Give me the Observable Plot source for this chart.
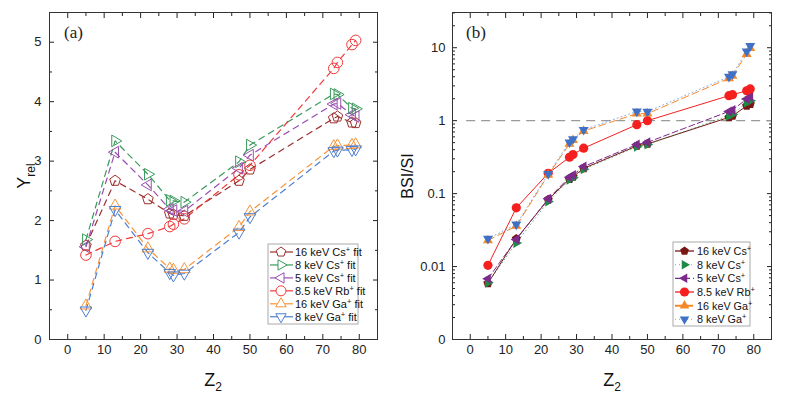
<!DOCTYPE html>
<html><head><meta charset="utf-8">
<script src="https://cdn.jsdelivr.net/npm/d3@7"></script>
<script src="https://cdn.jsdelivr.net/npm/@observablehq/plot@0.6"></script>
<style>
body{margin:0;background:#fff;}
#chart{position:relative;width:797px;height:394px;overflow:hidden;background:#fff;}
#chart svg{position:absolute;top:0;}
</style></head><body><div id="chart"></div>
<script>
// ---------- data ----------
const Z2 = [5, 13, 22, 28, 29, 32, 47, 50, 73, 74, 78, 79];
const seriesLabels = ["16 keV Cs", "8 keV Cs", "5 keV Cs", "8.5 keV Rb", "16 keV Ga", "8 keV Ga"];

// panel (a): relative yield
const yrelCs16 = [1.58, 2.67, 2.36, 2.12, 2.10, 2.08, 2.67, 2.86, 3.72, 3.75, 3.65, 3.64];
const yrelCs8  = [1.68, 3.34, 2.78, 2.34, 2.33, 2.31, 2.99, 3.27, 4.13, 4.12, 3.89, 3.88];
const yrelCs5  = [1.56, 3.15, 2.60, 2.19, 2.17, 2.16, 2.88, 3.10, 3.96, 3.97, 3.78, 3.75];
const yrelRb85 = [1.42, 1.65, 1.78, 1.90, 1.94, 2.03, 2.77, 2.93, 4.56, 4.66, 4.96, 5.03];
const yrelGa16 = [0.57, 2.25, 1.53, 1.19, 1.17, 1.18, 1.89, 2.15, 3.25, 3.26, 3.27, 3.28];
const yrelGa8  = [0.49, 2.18, 1.46, 1.12, 1.08, 1.11, 1.80, 2.06, 3.17, 3.18, 3.19, 3.20];

// panel (b): BSI/SI
const bsiCs16 = [0.0059, 0.024, 0.083, 0.158, 0.170, 0.222, 0.45, 0.48, 1.11, 1.16, 1.60, 1.69];
const bsiCs8  = [0.0060, 0.021, 0.078, 0.155, 0.165, 0.215, 0.44, 0.47, 1.17, 1.22, 1.78, 1.88];
const bsiCs5  = [0.0068, 0.0235, 0.085, 0.168, 0.180, 0.235, 0.47, 0.505, 1.34, 1.40, 1.98, 2.13];
const bsiRb85 = [0.0104, 0.0638, 0.19, 0.315, 0.343, 0.42, 0.88, 1.00, 2.20, 2.27, 2.57, 2.72];
const bsiGa16 = [0.0228, 0.036, 0.18, 0.48, 0.54, 0.72, 1.25, 1.25, 3.8, 4.1, 8.2, 9.9];
const bsiGa8  = [0.0241, 0.0378, 0.186, 0.505, 0.56, 0.75, 1.34, 1.33, 4.0, 4.35, 8.9, 10.6];
const refLevel = [1];

// ticks
const xTicks = [0, 10, 20, 30, 40, 50, 60, 70, 80];
const xMinor = [-5, 5, 15, 25, 35, 45, 55, 65, 75, 85];
const yrelTicks = [0, 1, 2, 3, 4, 5];
const yrelMinor = [0.5, 1.5, 2.5, 3.5, 4.5, 5.5];
const bsiTicks = [0.001, 0.01, 0.1, 1, 10];
const bsiTickLabels = ["0", "0.01", "0.1", "1", "10"];
const bsiMinor = [0.002,0.003,0.004,0.005,0.006,0.007,0.008,0.009,
  0.02,0.03,0.04,0.05,0.06,0.07,0.08,0.09,
  0.2,0.3,0.4,0.5,0.6,0.7,0.8,0.9,
  2,3,4,5,6,7,8,9,20,30];

// ---------- styles ----------
function regPoly(n, scale) {
  return {draw(ctx, size) {
    const R = Math.sqrt(size / Math.PI) * scale;
    for (let i = 0; i < n; i++) {
      const a = -Math.PI / 2 + i * 2 * Math.PI / n;
      const px = R * Math.cos(a), py = R * Math.sin(a);
      if (i === 0) ctx.moveTo(px, py); else ctx.lineTo(px, py);
    }
    ctx.closePath();
  }};
}
const pentagon = regPoly(5, 1.0);
const triangle = regPoly(3, 1.2);

const yrelSeries = [yrelCs16, yrelCs8, yrelCs5, yrelRb85, yrelGa16, yrelGa8];
const bsiSeries = [bsiCs16, bsiCs8, bsiCs5, bsiRb85, bsiGa16, bsiGa8];
const openColors = ["#9c2f2f", "#3a9a5c", "#9a4fb0", "#f03a3a", "#f7943a", "#4f7fd0"];
const fillColors = ["#7a1515", "#1f8a45", "#7c2a8c", "#f51f1f", "#f5892a", "#3f72c6"];
const symbols = [pentagon, triangle, triangle, "circle", triangle, triangle];
const rotations = [0, 90, -90, 0, 0, 180];
const bsiDash = [null, "1,3", "6,3", null, "7,4", "1,3"];

function rows(vals) { return Z2.map((z, i) => ({z, v: vals[i]})); }

const font = "'Liberation Sans', Arial, sans-serif";

function frameAxes(yT, yM, yFmt, pad) {
  const noTxt = () => "";
  return [
    Plot.axisX(xTicks, {anchor: "bottom", tickSize: -5, tickFormat: noTxt, label: null}),
    Plot.axisX(xMinor, {anchor: "bottom", tickSize: -3, tickFormat: noTxt, label: null}),
    Plot.axisX(xTicks, {anchor: "top", tickSize: -5, tickFormat: noTxt, label: null}),
    Plot.axisX(xMinor, {anchor: "top", tickSize: -3, tickFormat: noTxt, label: null}),
    Plot.axisX(xTicks, {anchor: "bottom", tickSize: 0, tickPadding: 5, label: null, tickFormat: d => String(d)}),
    Plot.axisY(yT, {anchor: "left", tickSize: -5, tickFormat: noTxt, label: null}),
    Plot.axisY(yM, {anchor: "left", tickSize: -3, tickFormat: noTxt, label: null}),
    Plot.axisY(yT, {anchor: "right", tickSize: -5, tickFormat: noTxt, label: null}),
    Plot.axisY(yM, {anchor: "right", tickSize: -3, tickFormat: noTxt, label: null}),
    Plot.axisY(yT, {anchor: "left", tickSize: 0, tickPadding: pad, label: null, tickFormat: yFmt}),
    Plot.frame({stroke: "#333", strokeWidth: 1})
  ];
}

// ---------- panel (a) ----------
const marksA = [];
yrelSeries.forEach((vals, k) => {
  marksA.push(Plot.line(rows(vals), {x: "z", y: "v", stroke: openColors[k], strokeWidth: 1.2, strokeDasharray: "6,5"}));
});
yrelSeries.forEach((vals, k) => {
  marksA.push(Plot.dot(rows(vals), {x: "z", y: "v", symbol: symbols[k], rotate: rotations[k], r: k === 3 ? 5.3 : 5.6, stroke: openColors[k], fill: "none", strokeWidth: 1}));
});
const plotA = Plot.plot({
  width: 400, height: 394,
  marginLeft: 49, marginRight: 23, marginTop: 12, marginBottom: 55,
  x: {domain: [-5, 85], label: null},
  y: {domain: [0, 5.5], label: null},
  style: {fontFamily: font, fontSize: "13px", color: "#222", background: "transparent"},
  marks: [...frameAxes(yrelTicks, yrelMinor, d => String(d), 8), ...marksA]
});
plotA.style.left = "0px";

// ---------- panel (b) ----------
const marksB = [Plot.ruleY(refLevel, {x1: -1, x2: 85, stroke: "#9a9a9a", strokeWidth: 1.3, strokeDasharray: "9,6"})];
bsiSeries.forEach((vals, k) => {
  marksB.push(Plot.line(rows(vals), {x: "z", y: "v", stroke: fillColors[k], strokeWidth: 1, strokeDasharray: bsiDash[k], strokeOpacity: (k === 1 || k === 5) ? 0.6 : 1}));
});
bsiSeries.forEach((vals, k) => {
  marksB.push(Plot.dot(rows(vals), {x: "z", y: "v", symbol: symbols[k], rotate: rotations[k], r: k === 3 ? 4.6 : 4.8, fill: fillColors[k], stroke: "none"}));
});
const plotB = Plot.plot({
  width: 397, height: 394,
  marginLeft: 52, marginRight: 26, marginTop: 12, marginBottom: 55,
  x: {domain: [-5, 85], label: null},
  y: {type: "log", domain: [0.001, 30.4], label: null},
  style: {fontFamily: font, fontSize: "13px", color: "#222", background: "transparent"},
  marks: [...frameAxes(bsiTicks, bsiMinor, d => bsiTickLabels[bsiTicks.indexOf(d)], 7), ...marksB]
});
plotB.style.left = "400px";

const root = document.getElementById("chart");
root.appendChild(plotA);
root.appendChild(plotB);

// ---------- annotations (titles, panel tags, legends) ----------
function addTitles(svg, {yTitle, ySub, yx, tag, tagX, cx}) {
  const s = d3.select(svg);
  const zt = s.append("text").attr("x", cx).attr("y", 386).attr("text-anchor", "middle")
    .style("font-family", font).style("font-size", "18px").attr("fill", "#111");
  zt.append("tspan").text("Z");
  zt.append("tspan").attr("dy", 5).style("font-size", "12px").text("2");
  const yt = s.append("text").attr("transform", `translate(${yx},176) rotate(-90)`).attr("text-anchor", "middle")
    .style("font-family", font).style("font-size", ySub ? "18px" : "16px").attr("fill", "#111");
  yt.append("tspan").text(yTitle);
  if (ySub) yt.append("tspan").attr("dy", 5).style("font-size", "12px").text(ySub);
  s.append("text").attr("x", tagX).attr("y", 38).attr("text-anchor", "start")
    .style("font-family", "'Liberation Serif', 'DejaVu Serif', serif")
    .style("font-size", "17px").attr("fill", "#222").text(tag);
}
addTitles(plotA, {yTitle: "Y", ySub: "rel", yx: 30, tag: "(a)", tagX: 64, cx: 213});
addTitles(plotB, {yTitle: "BSI/SI", ySub: null, yx: 13, tag: "(b)", tagX: 66, cx: 212});

function addLegend(svg, {x0, y0, w, h, rowY, rowH, lx1, lx2, mx, tx, open, suffix, fs}) {
  const s = d3.select(svg);
  const g = s.append("g");
  g.append("rect").attr("x", x0).attr("y", y0).attr("width", w).attr("height", h)
    .attr("fill", "#fff").attr("stroke", "#aaa").attr("stroke-width", 1);
  seriesLabels.forEach((lab, k) => {
    const y = rowY + k * rowH;
    const c = open ? openColors[k] : fillColors[k];
    const dash = open ? null : bsiDash[k];
    g.append("line").attr("x1", lx1).attr("x2", lx2).attr("y1", y).attr("y2", y)
      .attr("stroke", c).attr("stroke-width", open ? 1.2 : (k === 4 ? 2 : 1.3))
      .attr("stroke-dasharray", dash).attr("stroke-opacity", (!open && (k === 1 || k === 5)) ? 0.5 : 1);
    const rr = open ? 5 : 4.6;
    const typ = symbols[k] === "circle" ? d3.symbolCircle : symbols[k];
    g.append("path").attr("d", d3.symbol(typ, Math.PI * rr * rr)())
      .attr("transform", `translate(${mx},${y}) rotate(${rotations[k]})`)
      .attr("fill", open ? "#fff" : c).attr("stroke", open ? c : "none").attr("stroke-width", 1);
    const t = g.append("text").attr("x", tx).attr("y", y + 4).attr("text-anchor", "start")
      .style("font-family", font).style("font-size", fs + "px").attr("fill", "#111");
    t.append("tspan").text(lab);
    t.append("tspan").attr("dy", -4).style("font-size", "7.5px").text("+");
    if (suffix) t.append("tspan").attr("dy", 4).text(" " + suffix);
  });
}
addLegend(plotA, {x0: 268, y0: 244, w: 90, h: 80, rowY: 252, rowH: 12.95, lx1: 270, lx2: 293, mx: 281, tx: 295, open: true, suffix: "fit", fs: 11});
addLegend(plotB, {x0: 273, y0: 242, w: 77, h: 84, rowY: 251, rowH: 13.66, lx1: 275, lx2: 294, mx: 284.5, tx: 297, open: false, suffix: null, fs: 10.8});
</script></body></html>
